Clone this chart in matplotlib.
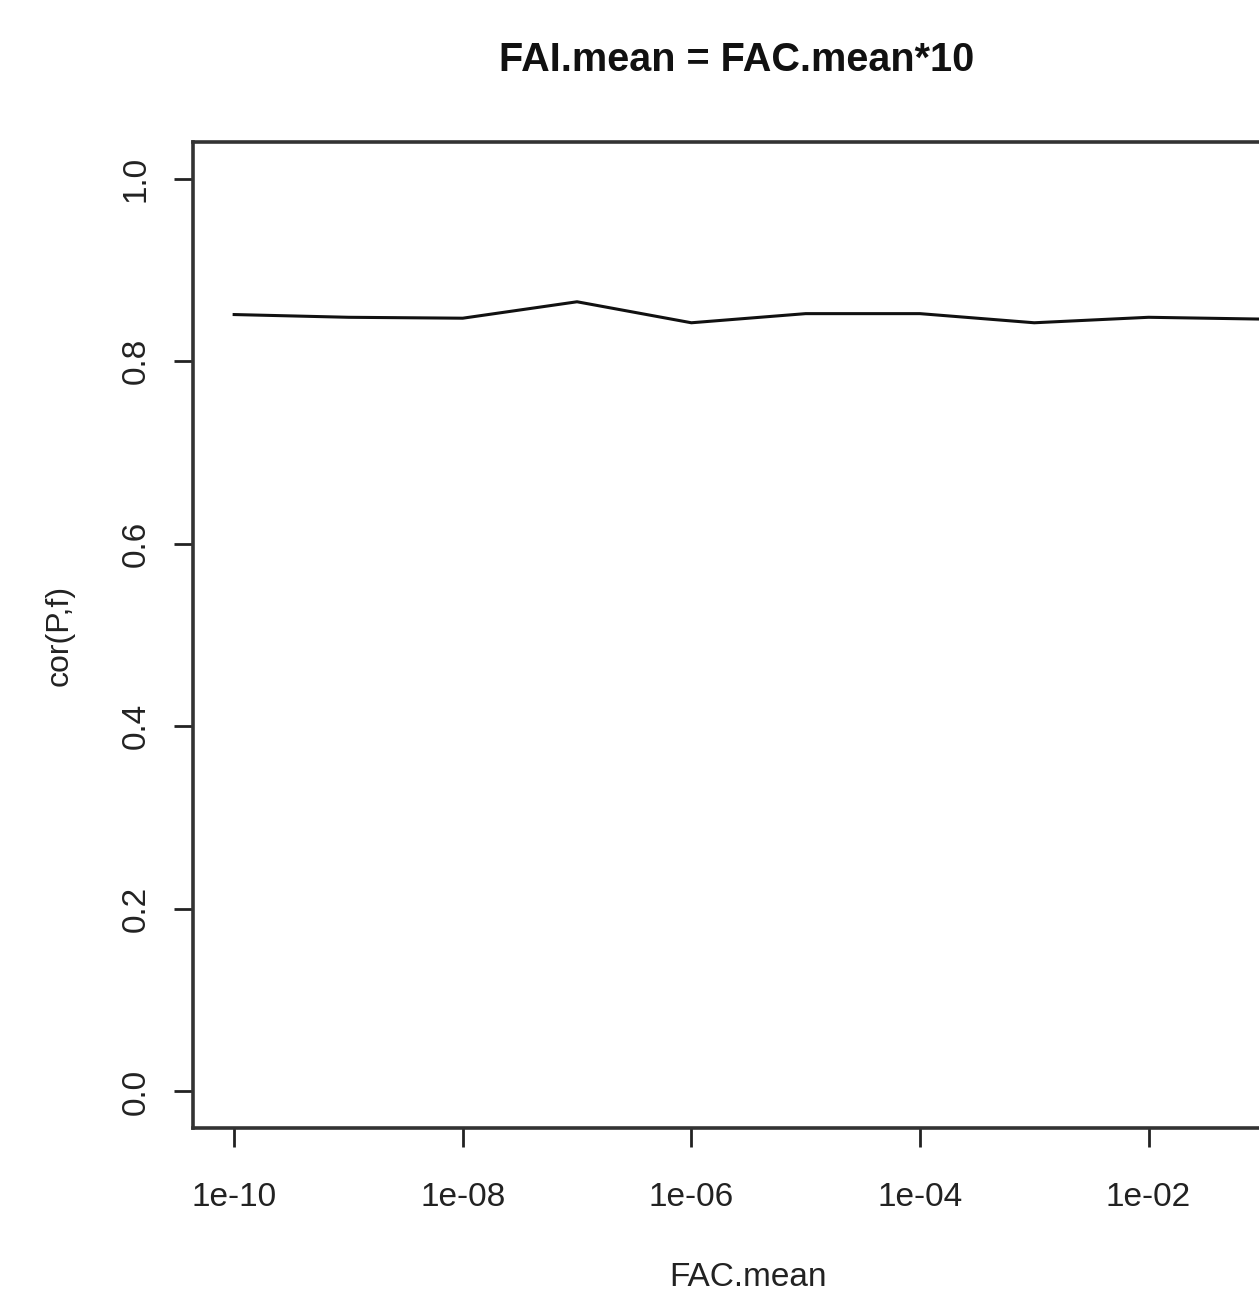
import numpy as np
import matplotlib
matplotlib.use('Agg')
import matplotlib.pyplot as plt

# values
fac_mean = [1e-10, 1e-09, 1e-08, 1e-07, 1e-06, 1e-05, 1e-04, 1e-03, 1e-02, 1e-01]
cor_pf = [0.851, 0.848, 0.847, 0.865, 0.842, 0.852, 0.852, 0.842, 0.848, 0.846]
xtick_vals = [1e-10, 1e-08, 1e-06, 1e-04, 1e-02]
xtick_labels = ['1e-10', '1e-08', '1e-06', '1e-04', '1e-02']
ytick_vals = [0.0, 0.2, 0.4, 0.6, 0.8, 1.0]

plt.rcParams['font.family'] = ['Liberation Sans', 'DejaVu Sans']
W, H = 1259, 1293
fig = plt.figure(figsize=(W / 100, H / 100), dpi=100)

# plot region runs past the right edge of the picture (cropped panel)
left, right, top, bottom = 193, 1304, 142, 1128
ax = fig.add_axes([left / W, 1 - bottom / H, (right - left) / W, (bottom - top) / H])

ax.plot(fac_mean, cor_pf, color='#111111', lw=2.2)
ax.set_xscale('log')
lo, hi = np.log10(fac_mean[0]), np.log10(fac_mean[-1])
pad = 0.04 * (hi - lo)
ax.set_xlim(10 ** (lo - pad), 10 ** (hi + pad))
ax.set_ylim(-0.04, 1.04)

ax.set_xticks(xtick_vals)
ax.set_xticklabels(xtick_labels)
ax.xaxis.set_minor_locator(matplotlib.ticker.NullLocator())
ax.set_yticks(ytick_vals)
ax.set_yticklabels(['%.1f' % v for v in ytick_vals], rotation=90, va='center')

ax.tick_params(axis='both', direction='out', length=14, width=2, color='#222222',
               labelsize=24, labelcolor='#222222')
ax.tick_params(axis='x', pad=25)
ax.tick_params(axis='y', pad=16)
for s in ax.spines.values():
    s.set_linewidth(2.6)
    s.set_color('#333333')

cx = (left + right) / 2 / W
fig.text(737 / W, 1 - 60 / H, 'FAI.mean = FAC.mean*10', ha='center', va='center',
         fontsize=28.5, fontweight='bold', color='#111111')
fig.text(cx, 1 - 1278 / H, 'FAC.mean', ha='center', va='center',
         fontsize=24, color='#222222')
fig.text(60 / W, 1 - 635 / H, 'cor(P,f)', ha='center', va='center',
         rotation=90, fontsize=23, color='#222222')

fig.savefig('out.png', dpi=100)
